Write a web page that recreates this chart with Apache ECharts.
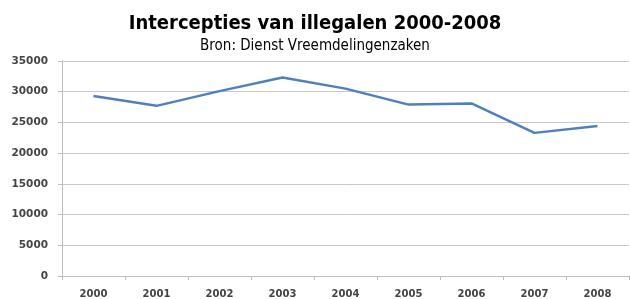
<!DOCTYPE html>
<html>
<head>
<meta charset="utf-8">
<script src="https://cdn.jsdelivr.net/npm/echarts@6/dist/echarts.min.js"></script>
<style>
  html, body { margin: 0; padding: 0; background: #fff; }
  #main { width: 630px; height: 299px; }
</style>
</head>
<body>
<div id="main"></div>
<script>
// jaren en aantallen intercepties
var years = ['2000', '2001', '2002', '2003', '2004', '2005', '2006', '2007', '2008'];
var intercepties = [29300, 27700, 30100, 32300, 30500, 27900, 28100, 23300, 24400];

var myChart = echarts.init(document.getElementById('main'));

var option = {
  animation: false,
  title: {
    text: 'Intercepties van illegalen 2000-2008',
    subtext: 'Bron: Dienst Vreemdelingenzaken',
    left: 'center',
    top: 9,
    itemGap: 5,
    textStyle: {
      fontFamily: 'Liberation Sans Narrow, DejaVu Sans Condensed, sans-serif',
      fontWeight: 'bold',
      fontSize: 20,
      color: '#000'
    },
    subtextStyle: {
      fontFamily: 'Liberation Sans Narrow, DejaVu Sans Condensed, sans-serif',
      fontSize: 15,
      color: '#000'
    }
  },
  grid: {
    left: 62,
    right: 1,
    top: 61,
    bottom: 23
  },
  xAxis: {
    type: 'category',
    data: years,
    boundaryGap: true,
    axisLine: { lineStyle: { color: '#bdbdbd', width: 1 } },
    axisTick: { show: true, length: 4, lineStyle: { color: '#bdbdbd' } },
    axisLabel: {
      color: '#444',
      fontSize: 10,
      fontWeight: 'bold',
      fontFamily: 'DejaVu Sans, sans-serif',
      margin: 13
    }
  },
  yAxis: {
    type: 'value',
    min: 0,
    max: 35000,
    interval: 5000,
    axisLine: { show: true, lineStyle: { color: '#bdbdbd', width: 1 } },
    axisTick: { show: true, length: 4, lineStyle: { color: '#bdbdbd' } },
    splitLine: { lineStyle: { color: '#c8c8c8', width: 1 } },
    axisLabel: {
      color: '#444',
      fontSize: 10.5,
      fontWeight: 'bold',
      fontFamily: 'DejaVu Sans, sans-serif',
      margin: 14,
      formatter: function (v) { return String(v); }
    }
  },
  series: [
    {
      name: 'Intercepties',
      type: 'line',
      data: intercepties,
      symbol: 'none',
      lineStyle: { color: '#4f7fbd', width: 2.5 }
    }
  ]
};

myChart.setOption(option);
</script>
</body>
</html>
